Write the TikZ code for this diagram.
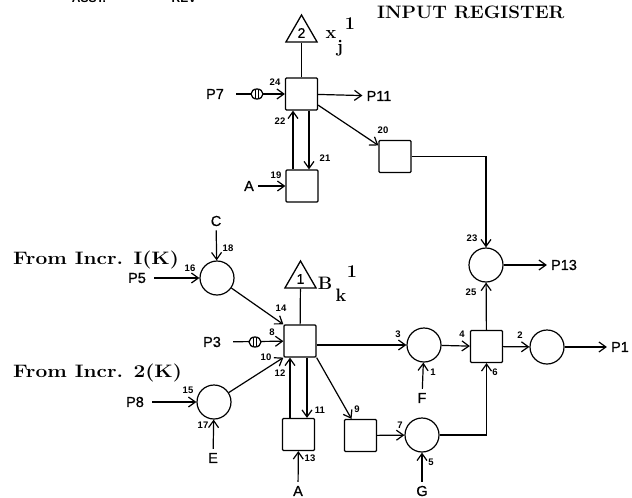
\documentclass[tikz,border=0pt]{standalone}
\usepackage{fontspec}
\newfontfamily\labfont{Liberation Sans}
\newfontfamily\siglabfont[FakeBold=0.8]{Liberation Sans}
\usetikzlibrary{arrows.meta,shapes.geometric}
\tikzset{
    regbox/.style={draw, line width=1.2pt, rounded corners=1pt, minimum size=32pt, inner sep=0pt},
    regcirc/.style={draw, line width=1.2pt, circle, minimum size=34pt, inner sep=0pt},
    regtri/.style={draw, line width=1.3pt, regular polygon, regular polygon sides=3, minimum size=36pt, inner sep=0pt, font=\siglabfont\fontsize{14}{14}\selectfont},
    tapmark/.style={draw, line width=1.3pt, ellipse, fill=white, minimum width=12pt, minimum height=10pt, inner sep=0pt,
        path picture={\draw[line width=1pt] (path picture bounding box.north) ++(-1.5pt,0) -- ++(0,-10pt) ++(3pt,0) -- ++(0,10pt);}},
    siglab/.style={font=\siglabfont\fontsize{14.5}{14}\selectfont, inner sep=4pt},
    numlab/.style={font=\labfont\bfseries\fontsize{9.5}{10}\selectfont, inner sep=0pt},
    headlab/.style={font=\fontsize{18}{19}\selectfont\bfseries, inner sep=0pt},
    line/.style={line width=1.2pt}
}
\begin{document}
\begin{tikzpicture}[x=1pt, y=-1pt, >={Straight Barb[length=7pt,width=10pt]}]
    \useasboundingbox (0,0) rectangle (632,498);

    % 1. top strip, cut by the page edge
    \begin{scope}
        \clip (0,0) rectangle (632,498);
        \node[numlab, font=\labfont\bfseries\fontsize{12}{12}\selectfont] (toplab1) at (89,-2) {ASST.};
        \node[numlab, font=\labfont\bfseries\fontsize{12}{12}\selectfont] (toplab2) at (184,-2) {REV};
    \end{scope}

    % 2. boxes, circles and triangles
    \node[regbox] (b24) at (301.5,94) {};
    \node[regbox] (b19) at (302,186) {};
    \node[regbox] (b20) at (395,156.5) {};
    \node[regbox] (b8) at (300,341) {};
    \node[regbox] (b13) at (298.5,434.5) {};
    \node[regbox] (b9) at (360.5,435.5) {};
    \node[regbox] (b4) at (486.5,346.5) {};
    \node[regcirc] (c23) at (486,265) {};
    \node[regcirc] (c16) at (217,278) {};
    \node[regcirc] (c15) at (214,402) {};
    \node[regcirc] (c3) at (424,345) {};
    \node[regcirc] (c2) at (547,347) {};
    \node[regcirc] (c7) at (422,435) {};
    \node[regtri] (t2) at (301.5,33) {2};
    \node[regtri] (t1) at (300.5,279) {1};

    % 3. signal names
    \node[siglab] (p7) at (215,94) {P7};
    \node[siglab] (p11) at (379,96) {P11};
    \node[siglab] (a1) at (249,186) {A};
    \node[siglab] (c) at (216,221) {C};
    \node[siglab] (p5) at (137,278) {P5};
    \node[siglab] (p3) at (212,342) {P3};
    \node[siglab] (p8) at (135,402) {P8};
    \node[siglab] (e) at (213,458) {E};
    \node[siglab] (a2) at (298,491) {A};
    \node[siglab] (f) at (422,398) {F};
    \node[siglab] (g) at (422,491) {G};
    \node[siglab] (p13) at (564,265) {P13};
    \node[siglab] (p1) at (620,347) {P1};

    % 4. typeset headings
    \node[headlab, anchor=west] (reg) at (377,12) {\scalebox{1.045}[1]{INPUT REGISTER}};
    \node[headlab, anchor=west] (incr1) at (13,260) {\scalebox{1.16}[1]{From Incr. I(K)}};
    \node[headlab, anchor=west] (incr2) at (13,373) {\scalebox{1.16}[1]{From Incr. 2(K)}};
    \node[headlab] (xvar) at (331,35) {x};
    \node[headlab] (xsub) at (340,48) {j};
    \node[headlab] (xsup) at (350,24) {1};
    \node[headlab] (bvar) at (325,283) {B};
    \node[headlab] (bsub) at (341,295) {k};
    \node[headlab] (bsup) at (352,272) {1};

    % 5. small numbers
    \foreach \num/\x/\y in {1/433/372, 2/520/335, 3/398/334, 4/462/334, 5/431/462, 6/495/372, 7/400/425,
        8/272/332, 9/357/409, 10/266/357, 11/320/410, 12/280/373, 13/310/458, 14/281/308, 15/188/390,
        16/190/268, 17/203/425, 18/228/248, 19/276/175, 20/383/130, 21/325/158, 22/280/121, 23/472/238,
        24/275/82, 25/471/292}
        \node[numlab] (n\num) at (\x,\y) {\num};

    % 6. connectors, upper group
    \draw[line] (b24) -- (t2);
    \draw[line, ->, shorten <=8pt] (p7) -- (b24);
    \node[tapmark] (tap7) at (257,94) {};
    \draw[line, ->] (b24) -- (p11);
    \draw[line, ->] ([xshift=-9pt]b19.north) -- ([xshift=-8.5pt]b24.south);
    \draw[line, ->] ([xshift=7.5pt]b24.south) -- ([xshift=7pt]b19.north);
    \draw[line, ->] (a1) -- (b19);
    \draw[line, ->] (b24) -- (b20);
    \draw[line, ->] (b20) -| (c23);

    % 7. connectors, lower group
    \draw[line] (b8) -- (t1);
    \draw[line, ->] (c) -- (c16);
    \draw[line, ->, shorten <=4pt] (p5) -- (c16);
    \draw[line, ->] (c16) -- (b8.north west);
    \draw[line, ->, shorten <=8pt] (p3) -- (b8);
    \node[tapmark] (tap3) at (255,342) {};
    \draw[line, ->] (c15) -- (b8.south west);
    \draw[line, ->, shorten <=4pt] (p8) -- (c15);
    \draw[line, ->] (e) -- (c15);
    \draw[line, ->] ([xshift=-8.5pt]b13.north) -- ([xshift=-10pt]b8.south);
    \draw[line, ->] ([xshift=7pt]b8.south) -- ([xshift=8.5pt]b13.north);
    \draw[line, ->] (a2) -- (b13);
    \draw[line, ->] (b8.south east) -- ([xshift=-9pt]b9.north);
    \draw[line, ->] (b9) -- (c7);
    \draw[line, ->] (g) -- (c7);
    \draw[line, ->] ([yshift=-4pt]b8.east) -- (c3.west);
    \draw[line, ->] (f) -- (c3);
    \draw[line, ->] (c3) -- (b4);
    \draw[line, ->] (c7) -| (b4);
    \draw[line, ->] (b4) -- (c23);
    \draw[line, ->] (b4) -- (c2);
    \draw[line, ->] (c2) -- (p1);
    \draw[line, ->] (c23) -- (p13);
\end{tikzpicture}
\end{document}
